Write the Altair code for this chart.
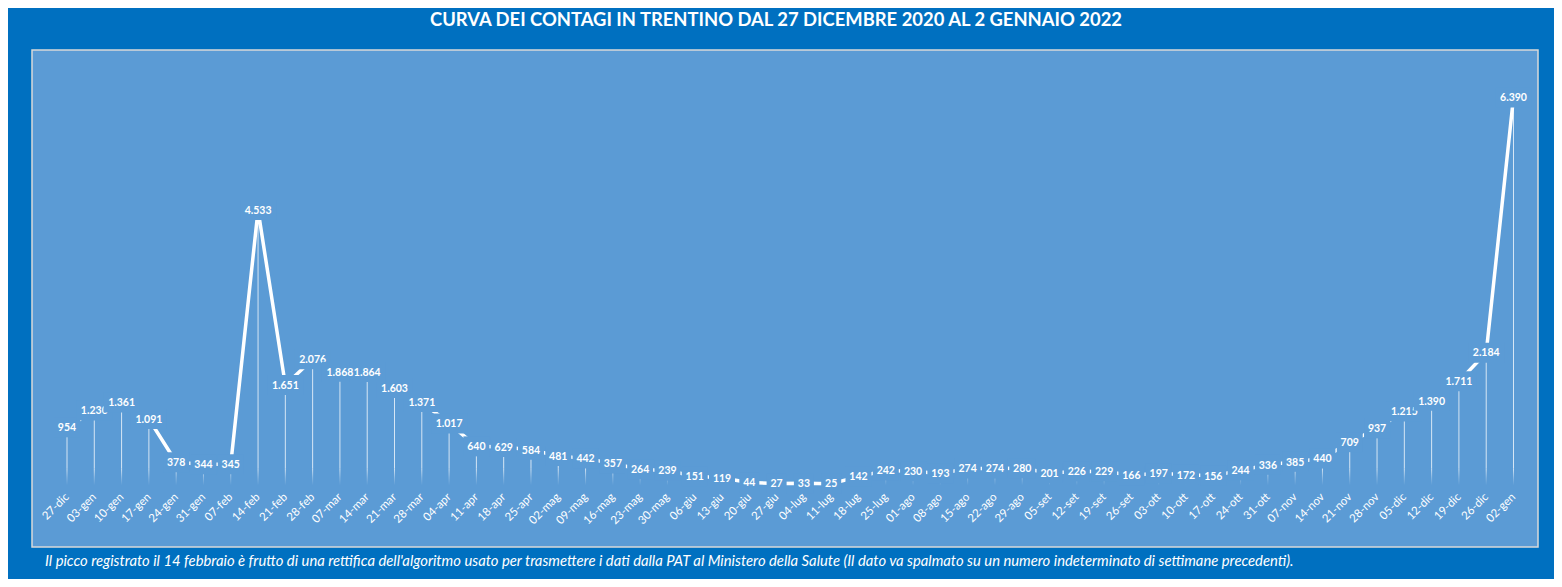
import altair as alt
import pandas as pd

settimane = ["27-dic", "03-gen", "10-gen", "17-gen", "24-gen", "31-gen", "07-feb", "14-feb", "21-feb",
             "28-feb", "07-mar", "14-mar", "21-mar", "28-mar", "04-apr", "11-apr", "18-apr", "25-apr",
             "02-mag", "09-mag", "16-mag", "23-mag", "30-mag", "06-giu", "13-giu", "20-giu", "27-giu",
             "04-lug", "11-lug", "18-lug", "25-lug", "01-ago", "08-ago", "15-ago", "22-ago", "29-ago",
             "05-set", "12-set", "19-set", "26-set", "03-ott", "10-ott", "17-ott", "24-ott", "31-ott",
             "07-nov", "14-nov", "21-nov", "28-nov", "05-dic", "12-dic", "19-dic", "26-dic", "02-gen"]
contagi = [954, 1230, 1361, 1091, 378, 344, 345, 4533, 1651,
           2076, 1868, 1864, 1603, 1371, 1017, 640, 629, 584,
           481, 442, 357, 264, 239, 151, 119, 44, 27,
           33, 25, 142, 242, 230, 193, 274, 274, 280,
           201, 226, 229, 166, 197, 172, 156, 244, 336,
           385, 440, 709, 937, 1215, 1390, 1711, 2184, 6390]

TITOLO = "CURVA DEI CONTAGI IN TRENTINO DAL 27 DICEMBRE 2020 AL 2 GENNAIO 2022"
NOTA = ("Il picco registrato il 14 febbraio è frutto di una rettifica dell'algoritmo usato per trasmettere "
        "i dati dalla PAT al Ministero della Salute (Il dato va spalmato su un numero indeterminato di "
        "settimane precedenti).")

PLOT_BG = "#5B9BD5"
OUTER_BG = "#0070C0"
FADE = 280
Y_RANGE = [435.2, 10.4]
Y_MAX = 7000

# label background boxes (Excel-style filled label boxes), by label length
BOX_SHAPES = {
    "2": "M-10,-10L10,-10L10,10L-10,10Z",
    "3": "M-13,-10L13,-10L13,10L-13,10Z",
    "5": "M-18,-10L18,-10L18,10L-18,10Z",
}

df = pd.DataFrame({"settimana": settimane, "contagi": contagi})
df["etichetta"] = [f"{v:,}".replace(",", ".") for v in contagi]
df["lung"] = df["etichetta"].str.len().astype(str)
df["fade_top"] = df["contagi"].clip(upper=FADE)
# drawing order of the labels: a label whose box overlaps the previous label is drawn later
px_per_unit = (Y_RANGE[0] - Y_RANGE[1]) / Y_MAX
prev_len = df["lung"].shift(1)
dy_prev = (df["contagi"] - df["contagi"].shift(1)).abs() * px_per_unit
df["strato"] = ((df["lung"] == "5") & (prev_len == "5") & (dy_prev < 13)).astype(int)

x = alt.X("settimana:O", sort=settimane,
          scale=alt.Scale(type="point", range=[35, 1481.5], padding=0),
          axis=alt.Axis(title=None, labelAngle=-45, labelAlign="right", labelBaseline="middle",
                        labelColor="white", labelFont="Lato", labelFontSize=11.5, ticks=False,
                        tickSize=0, domain=False, grid=False, offset=-52, labelPadding=0,
                        labelOffset=0))
yscale = alt.Scale(domain=[0, Y_MAX], range=Y_RANGE, nice=False)
y = alt.Y("contagi:Q", scale=yscale, axis=None)

base = alt.Chart(df)

fade = base.mark_bar(size=1, color=alt.Gradient(
    gradient="linear", x1=0, x2=0, y1=0, y2=1,
    stops=[alt.GradientStop(color="rgba(255,255,255,0.75)", offset=0),
           alt.GradientStop(color="rgba(255,255,255,0.3)", offset=0.55),
           alt.GradientStop(color="rgba(255,255,255,0)", offset=1)])).encode(
    x=x, y=alt.Y("fade_top:Q", scale=yscale, axis=None))

drops = base.mark_rule(color="white", opacity=0.75, strokeWidth=1).encode(
    x=x, y=y, y2="fade_top:Q")

line = base.mark_line(color="white", strokeWidth=3.5).encode(x=x, y=y)

shape = alt.Shape("lung:N", scale=alt.Scale(domain=list(BOX_SHAPES.keys()),
                                            range=list(BOX_SHAPES.values())), legend=None)


def label_layers(s):
    sub = base.transform_filter(alt.datum.strato == s)
    boxes = sub.mark_point(filled=True, size=4, opacity=1, fill=PLOT_BG, strokeWidth=0).encode(
        x=x, y=y, shape=shape)
    texts = sub.mark_text(font="Lato", fontSize=10.5, fontWeight="bold", baseline="alphabetic",
                          dy=3.8, color="white").encode(x=x, y=y, text="etichetta:N")
    return [boxes, texts]


titolo = alt.Chart(pd.DataFrame({"t": [TITOLO]})).mark_text(
    align="center", baseline="alphabetic", font="Lato", fontWeight="bold", fontSize=18.4,
    color="white").encode(x=alt.value(744), y=alt.value(-24.5), text="t:N")

nota = alt.Chart(pd.DataFrame({"nota": [NOTA]})).mark_text(
    align="left", baseline="alphabetic", font="Lato", fontStyle="italic", fontSize=14.8,
    color="white").encode(x=alt.value(13), y=alt.value(516), text="nota:N")

chart = alt.layer(fade, drops, line, *label_layers(0), *label_layers(1), titolo, nota).properties(
    width=1506, height=497,
    background=OUTER_BG,
    padding={"left": 24, "top": 42, "right": 16, "bottom": 32},
    autosize=alt.AutoSizeParams(type="none"),
).configure_view(fill=PLOT_BG, stroke="#D9D9D9", strokeWidth=1.5)

chart.save("out.html", embed_options={"renderer": "svg", "actions": False})
